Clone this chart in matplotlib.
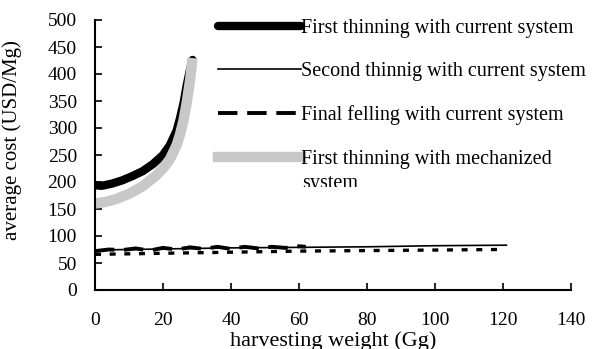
import matplotlib
matplotlib.use('Agg')
import matplotlib.pyplot as plt
from matplotlib.transforms import Bbox, TransformedBbox

plt.rcParams['font.family'] = 'Liberation Serif'
plt.rcParams['font.size'] = 14

# average cost (USD/Mg) against harvesting weight (Gg)
ft_cur_x = [0, 2, 5, 8, 11, 14, 17, 20, 22, 24, 25, 26, 27, 28, 28.7]
ft_cur_y = [194, 193, 197, 203, 211, 220, 233, 250, 268, 295, 318, 345, 380, 410, 426]

ft_mech_x = [0, 3, 6, 10, 14, 18, 20, 22, 24, 25, 26, 27, 28, 28.5]
ft_mech_y = [160, 163, 168, 178, 192, 212, 225, 242, 268, 288, 313, 348, 390, 420]

st_cur_x = [0, 20, 40, 60, 80, 100, 121]
st_cur_y = [74, 76, 78, 79, 80, 82, 83]

ff_cur_x = [0, 4, 8, 12, 16, 20, 24, 28, 32, 36, 40, 44, 48, 52, 56, 60, 62]
ff_cur_y = [72, 75, 74, 77, 73, 78, 75, 79, 76, 80, 76, 80, 77, 80, 78, 81, 80]

ff_low_x = [0, 20, 40, 60, 80, 100, 119]
ff_low_y = [66, 68, 70, 72, 73, 74, 75]

labels = ['First thinning with current system',
          'Second thinnig with current system',
          'Final felling with current system',
          'First thinning with mechanized']

fig = plt.figure(figsize=(5.92, 3.49), dpi=100)
ax = fig.add_axes([95 / 592, 1 - 290 / 349, 476 / 592, 270 / 349])

l1, = ax.plot(ft_cur_x, ft_cur_y, color='black', lw=6, solid_capstyle='round')
l2, = ax.plot(st_cur_x, st_cur_y, color='black', lw=1.2)
l3, = ax.plot(ff_cur_x, ff_cur_y, color='black', lw=2.8, dashes=(5, 2.5))
ax.plot(ff_low_x, ff_low_y, color='black', lw=2.4, dashes=(1.8, 2.6))
l4, = ax.plot(ft_mech_x, ft_mech_y, color='#c8c8c8', lw=7.5)

ax.set_xlim(0, 140)
ax.set_ylim(0, 500)
ax.set_xticks(range(0, 141, 20))
ax.set_yticks(range(0, 501, 50))
ax.tick_params(direction='in', length=5, width=1.2)
ax.tick_params(axis='x', pad=16)
ax.tick_params(axis='y', pad=13)
for side in ['top', 'right']:
    ax.spines[side].set_visible(False)
for side in ['left', 'bottom']:
    ax.spines[side].set_linewidth(1.5)

ax.set_xlabel('harvesting weight (Gg)', fontsize=16)
ax.set_ylabel('average cost (USD/Mg)', fontsize=15)
ax.xaxis.set_label_coords(0.5, -0.152)
ax.yaxis.set_label_coords(-0.153, 0.556)

ax.legend([l1, l2, l3, l4], labels, loc='upper left', frameon=False,
          bbox_to_anchor=(218 / 592, 1 - 19 / 349), bbox_transform=fig.transFigure,
          fontsize=14.5, handlelength=4.1, handletextpad=0.0, labelspacing=1.2,
          borderaxespad=0, borderpad=0)

t = fig.text(302 / 592, 1 - 184 / 349, 'system', va='center', ha='left', fontsize=14.5)
t.set_clip_box(TransformedBbox(Bbox([[0, 1 - 187 / 349], [1, 1]]), fig.transFigure))

fig.savefig('out.png', dpi=100)
